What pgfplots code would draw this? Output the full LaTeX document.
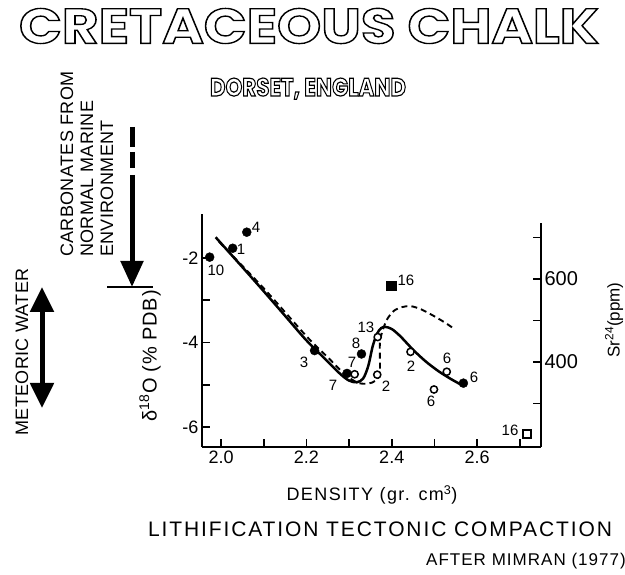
\documentclass[border=0pt]{standalone}
\usepackage{fontspec}
\setmainfont{Liberation Sans}
\newfontfamily\titlefont{Poppins}
\usepackage{pgfplots}
\pgfplotsset{compat=1.18}
\usetikzlibrary{arrows.meta}
\newcommand{\outlined}[2][1.2]{\special{pdf:literal direct 1 Tr #1 w}#2\special{pdf:literal direct 0 Tr}}
\newcommand{\fs}[1]{\fontsize{#1}{#1}\selectfont}
\begin{document}
\begin{tikzpicture}[x=1pt,y=1pt]
\path[use as bounding box] (0,0) rectangle (625,575);
% titles
\node[inner sep=0] at (309,549) {\resizebox{580pt}{35pt}{\titlefont\bfseries\fs{40}\outlined[1.1]{CRETACEOUS CHALK}}};
\node[inner sep=0, anchor=base] at (308,479) {\resizebox{196pt}{18pt}{\titlefont\bfseries\fs{26}\outlined[1.2]{DORSET, ENGLAND}}};
% left annotations
\node[inner sep=0, rotate=90, anchor=west] at (67,318) {\fs{18}\addfontfeatures{LetterSpace=2}CARBONATES FROM};
\node[inner sep=0, rotate=90, anchor=west] at (87,318) {\fs{18}\addfontfeatures{LetterSpace=2}NORMAL MARINE};
\node[inner sep=0, rotate=90, anchor=west] at (107,318) {\fs{18}\addfontfeatures{LetterSpace=2}ENVIRONMENT};
\node[inner sep=0, rotate=90] at (22,223) {\fs{18}\addfontfeatures{LetterSpace=2}METEORIC WATER};
\draw[line width=5pt] (132,448) -- (132,428);
\draw[line width=5pt] (132,423) -- (132,407);
\draw[line width=5pt, -{Triangle[length=26pt,width=22pt]}] (132,400) -- (132,288);
\draw[line width=2.2pt] (107,288) -- (153,288);
\draw[line width=5pt, {Triangle[length=25pt,width=23pt]}-{Triangle[length=25pt,width=23pt]}] (42,288) -- (42,167);
% axis labels
\node[inner sep=0, rotate=90] at (150,219) {\fs{20}\addfontfeatures{LetterSpace=4}δ\textsuperscript{18}O (\% PDB)};
\node[inner sep=0, rotate=90] at (614,255) {\fs{17}Sr\textsuperscript{24}(ppm)};
\node[inner sep=0] at (372,80) {\fs{18}\addfontfeatures{LetterSpace=8}DENSITY (gr. cm\textsuperscript{3})};
\node[inner sep=0] at (380,46) {\fs{21}\addfontfeatures{LetterSpace=9}LITHIFICATION TECTONIC COMPACTION};
\node[inner sep=0] at (526,14) {\fs{17}\addfontfeatures{LetterSpace=6}AFTER MIMRAN (1977)};
% main axis
\begin{axis}[at={(202pt,128pt)}, anchor=south west, scale only axis,
  width=339pt, height=233pt,
  xmin=1.955, xmax=2.75, ymin=-6.47, ymax=-0.96,
  axis x line*=bottom, axis y line*=left,
  axis line style={line width=2.2pt},
  tick align=inside, major tick length=8pt,
  tick style={line width=1.8pt, black},
  xtick={2.0,2.1,2.2,2.3,2.4,2.5,2.6,2.7},
  xticklabels={2.0,,2.2,,2.4,,2.6,},
  ytick={-6,-5,-4,-3,-2},
  yticklabels={-6,,-4,,-2},
  ticklabel style={font=\fs{18}},
  clip=false]
\addplot[black, line width=2.5pt, smooth, tension=0.5] coordinates {
(1.987,-1.51) (2.05,-2.22) (2.10,-2.79) (2.15,-3.37) (2.20,-3.95) (2.25,-4.45)
(2.28,-4.75) (2.30,-4.90) (2.318,-4.94) (2.333,-4.85) (2.345,-4.55) (2.355,-4.1)
(2.365,-3.8) (2.375,-3.66) (2.385,-3.63) (2.40,-3.68) (2.42,-3.85) (2.45,-4.17)
(2.48,-4.45) (2.51,-4.68) (2.54,-4.87) (2.567,-5.02)};
\addplot[black, line width=1.9pt, dash pattern=on 6pt off 4pt, smooth, tension=0.5] coordinates {
(1.995,-1.62) (2.10,-2.72) (2.20,-3.85) (2.25,-4.35) (2.29,-4.75) (2.32,-4.95)
(2.345,-4.97) (2.362,-4.9) (2.372,-4.72) (2.372,-4.05) (2.376,-3.8) (2.388,-3.47)
(2.405,-3.25) (2.425,-3.16) (2.445,-3.14) (2.47,-3.22) (2.50,-3.38) (2.525,-3.53) (2.547,-3.68)};
% filled circles
\addplot[only marks, mark=*, mark size=4.5pt, black] coordinates {
(1.973,-1.98) (2.027,-1.77) (2.060,-1.39) (2.219,-4.19) (2.295,-4.73) (2.329,-4.27) (2.568,-4.96)};
% open circles
\addplot[only marks, mark=*, mark size=3.6pt, mark options={fill=white, draw=black, line width=1.5pt}] coordinates {
(2.313,-4.75) (2.367,-3.87) (2.366,-4.76) (2.444,-4.22) (2.529,-4.69) (2.499,-5.11)};
% filled square
\addplot[only marks, mark=square*, mark size=4.8pt, black] coordinates {(2.399,-2.66)};
% open square
\addplot[only marks, mark=square*, mark size=4pt, mark options={fill=white, draw=black, line width=1.8pt}] coordinates {(2.7165,-6.17)};
\end{axis}
% right axis
\begin{axis}[at={(202pt,128pt)}, anchor=south west, scale only axis,
  width=339pt, height=224pt,
  xmin=1.955, xmax=2.75, ymin=195, ymax=735,
  axis x line=none, axis y line*=right,
  axis line style={line width=2.2pt},
  tick align=inside, major tick length=8pt,
  tick style={line width=1.8pt, black},
  ytick={300,400,500,600,700},
  yticklabels={,400,,600,},
  ticklabel style={font=\fs{20}}]
\addplot[draw=none] coordinates {(2.0,300)};
\end{axis}
% point labels
\begin{scope}[every node/.style={inner sep=0, font=\fs{15}}]
\node at (216,305) {10};
\node at (241,326) {1};
\node at (256,348) {4};
\node at (304,213) {3};
\node at (333,190) {7};
\node at (352,213) {7};
\node at (356,232) {8};
\node at (366,248) {13};
\node at (386,189) {2};
\node at (406,295) {16};
\node at (411,209) {2};
\node at (447,217) {6};
\node at (431,174) {6};
\node at (474,198) {6};
\node at (510,145) {16};
\end{scope}
\end{tikzpicture}
\end{document}
